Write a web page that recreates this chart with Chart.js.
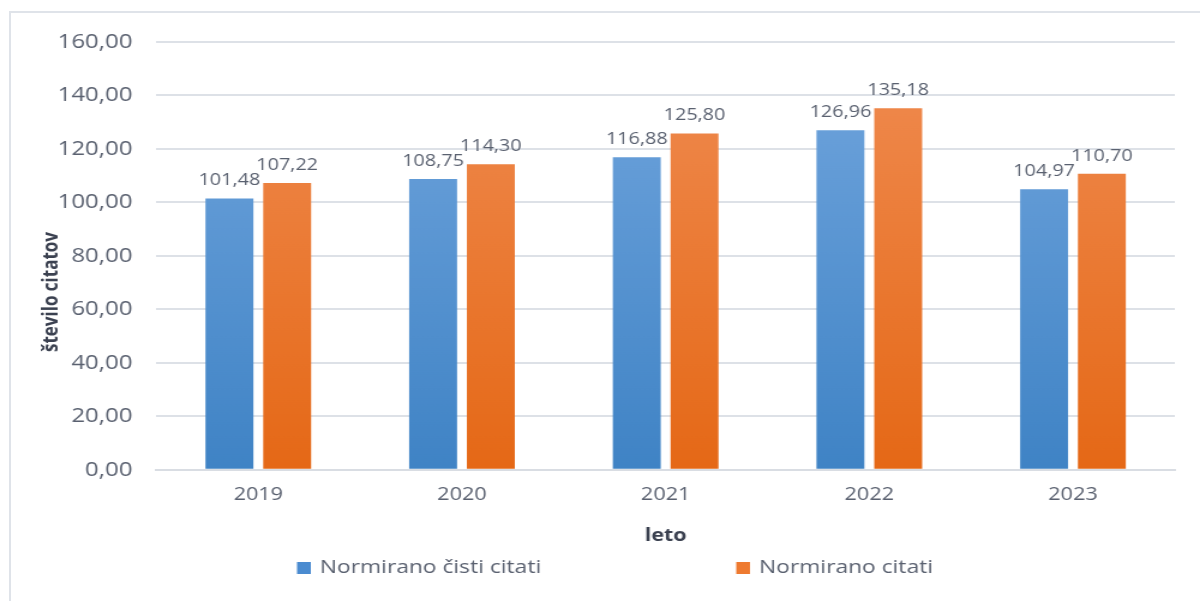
<!DOCTYPE html>
<html>
<head>
<meta charset="utf-8">
<script src="https://cdn.jsdelivr.net/npm/chart.js@4.4.0/dist/chart.umd.min.js"></script>
<style>
  html, body { margin: 0; padding: 0; background: #fff; }
  #wrap { position: relative; width: 1200px; height: 601px; overflow: hidden; }
  #frame { position: absolute; left: 9px; top: 11px; width: 1300px; height: 700px;
           border-left: 2px solid #dfe3e9; border-top: 2px solid #dfe3e9; }
  canvas { position: absolute; left: 0; top: 0; }
</style>
</head>
<body>
<div id="wrap">
  <div id="frame"></div>
  <!-- the original picture is stretched sideways, so the canvas is drawn 1000 wide and shown 1200 wide -->
  <canvas id="c" width="1000" height="601" style="width:1200px;height:601px"></canvas>
</div>
<script>
// data
const years = ['2019', '2020', '2021', '2022', '2023'];
const cistiCitati = [101.48, 108.75, 116.88, 126.96, 104.97];
const citati = [107.22, 114.30, 125.80, 135.18, 110.70];
const seriesNames = ['Normirano čisti citati', 'Normirano citati'];
const yTitle = 'število citatov';

const FONT = "'Open Sans', sans-serif";
const TXT = '#5a6170';

function fmt(v) {
  return v.toFixed(2).replace('.', ',');
}

// vertical gradient over the chart area
function grad(ctx, top, bottom) {
  const chart = ctx.chart;
  const area = chart.chartArea;
  if (!area) return bottom;
  const g = chart.ctx.createLinearGradient(0, area.top, 0, area.bottom);
  g.addColorStop(0, top);
  g.addColorStop(1, bottom);
  return g;
}

// value labels above bars
const valueLabels = {
  id: 'valueLabels',
  afterDatasetsDraw(chart) {
    const ctx = chart.ctx;
    ctx.save();
    ctx.font = '16.5px ' + FONT;
    ctx.fillStyle = TXT;
    ctx.textAlign = 'center';
    ctx.textBaseline = 'alphabetic';
    chart.data.datasets.forEach((ds, i) => {
      chart.getDatasetMeta(i).data.forEach((bar, j) => {
        ctx.fillText(fmt(ds.data[j]), bar.x, bar.y - 13);
      });
    });
    ctx.restore();
  }
};

// y title sits lower than centre in the original, so draw it here
const sideTitle = {
  id: 'sideTitle',
  afterDraw(chart) {
    const ctx = chart.ctx;
    ctx.save();
    ctx.translate(43, 292);
    ctx.rotate(-Math.PI / 2);
    ctx.font = 'bold 17px ' + FONT;
    ctx.fillStyle = '#3b4150';
    ctx.textAlign = 'center';
    ctx.textBaseline = 'middle';
    ctx.fillText(yTitle, 0, 0);
    ctx.restore();
  }
};

// legend below the axis title, items spread apart like the original
const wideLegend = {
  id: 'wideLegend',
  afterDraw(chart) {
    const ctx = chart.ctx;
    const xs = [247.5, 613.5];
    const y = 568;
    ctx.save();
    ctx.font = '19px ' + FONT;
    ctx.textBaseline = 'middle';
    ctx.textAlign = 'left';
    chart.data.datasets.forEach((ds, i) => {
      ctx.fillStyle = ds.legendColor;
      ctx.fillRect(xs[i], y - 6, 11.5, 12);
      ctx.fillStyle = TXT;
      ctx.fillText(ds.label, xs[i] + 19, y);
    });
    ctx.restore();
  }
};

new Chart(document.getElementById('c'), {
  type: 'bar',
  data: {
    labels: years,
    datasets: [
      {
        label: seriesNames[0],
        data: cistiCitati,
        legendColor: '#4a8bd0',
        backgroundColor: ctx => grad(ctx, '#72a6de', '#3f83c5'),
        categoryPercentage: 0.567,
        barPercentage: 0.83
      },
      {
        label: seriesNames[1],
        data: citati,
        legendColor: '#ee7a30',
        backgroundColor: ctx => grad(ctx, '#f08c52', '#e56816'),
        categoryPercentage: 0.567,
        barPercentage: 0.83
      }
    ]
  },
  options: {
    responsive: false,
    animation: false,
    layout: { padding: { left: 28, right: 21, top: 42, bottom: 54 } },
    plugins: {
      legend: { display: false },
      tooltip: { enabled: false }
    },
    scales: {
      x: {
        grid: { display: false, drawTicks: false },
        border: { display: true, color: '#d9dde3', width: 2 },
        ticks: { color: TXT, font: { family: FONT, size: 18 }, padding: 14 },
        title: {
          display: true, text: 'leto', color: '#3b4150',
          font: { family: FONT, size: 18, weight: 'bold' },
          padding: { top: 6, bottom: 0 }
        }
      },
      y: {
        min: 0, max: 160,
        grid: { color: '#dde1e7', lineWidth: 2, drawTicks: false },
        border: { display: false },
        ticks: {
          stepSize: 20, color: TXT, padding: 20,
          font: { family: FONT, size: 20 },
          callback: v => fmt(v)
        },
        title: { display: false }
      }
    }
  },
  plugins: [valueLabels, sideTitle, wideLegend]
});
</script>
</body>
</html>
